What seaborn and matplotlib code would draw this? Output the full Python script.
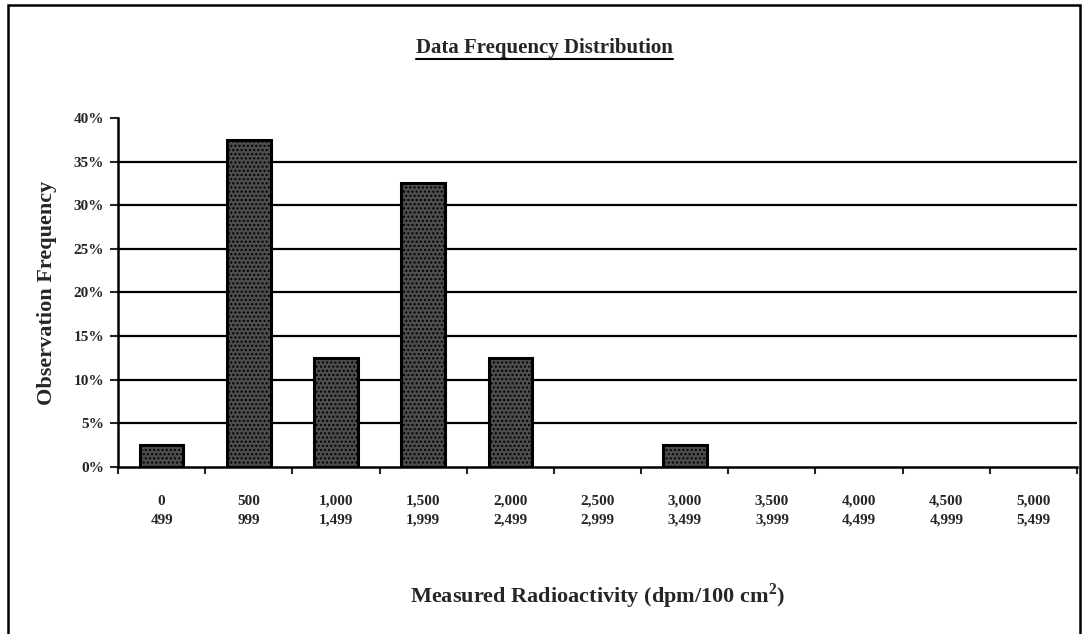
"""Data frequency distribution of measured radioactivity, redrawn with seaborn."""
import matplotlib

matplotlib.use("Agg")
import matplotlib.pyplot as plt
import numpy as np
import pandas as pd
import seaborn as sns
from matplotlib.lines import Line2D
from matplotlib.patches import Rectangle
from matplotlib.ticker import FuncFormatter

BIN_LOW = ["0", "500", "1,000", "1,500", "2,000", "2,500", "3,000", "3,500", "4,000", "4,500", "5,000"]
BIN_HIGH = ["499", "999", "1,499", "1,999", "2,499", "2,999", "3,499", "3,999", "4,499", "4,999", "5,499"]
FREQUENCY = [0.025, 0.375, 0.125, 0.325, 0.125, 0.0, 0.025, 0.0, 0.0, 0.0, 0.0]
Y_TICKS = [0.0, 0.05, 0.10, 0.15, 0.20, 0.25, 0.30, 0.35, 0.40]

sns.set_style("white")
plt.rcParams["font.family"] = ["Liberation Serif", "DejaVu Serif"]
plt.rcParams["font.weight"] = "bold"
plt.rcParams["hatch.color"] = "#d0d0d0"
plt.rcParams["mathtext.fontset"] = "custom"
plt.rcParams["mathtext.rm"] = "Liberation Serif:bold"
plt.rcParams["mathtext.bf"] = "Liberation Serif:bold"

df = pd.DataFrame({
    "bin": [f"{lo}\n{hi}" for lo, hi in zip(BIN_LOW, BIN_HIGH)],
    "freq": FREQUENCY,
})

fig = plt.figure(figsize=(10.89, 6.34), dpi=100)
ax = fig.add_axes([0.1084, 0.2634, 0.8806, 0.5505])

# gridlines behind the bars
for y in Y_TICKS[1:-1]:
    ax.axhline(y, color="black", linewidth=1.6, zorder=0)

sns.barplot(
    data=df, x="bin", y="freq", ax=ax, width=0.5,
    color="#4d4d4d", edgecolor="black", linewidth=2.2, saturation=1, zorder=2,
)
for bar in ax.patches:
    bar.set_hatch("....")
    bar.set_edgecolor("black")
    if bar.get_height() == 0:
        bar.set_visible(False)

ax.set_xlim(-0.5, len(FREQUENCY) - 0.5)
ax.set_ylim(0, 0.40)
ax.set_yticks(Y_TICKS)
ax.yaxis.set_major_formatter(FuncFormatter(lambda v, _: f"{v * 100:.0f}%"))
ax.tick_params(axis="y", length=6, width=1.5, direction="out", left=True, labelsize=11, pad=4)
ax.set_xticks(np.arange(len(FREQUENCY)))
ax.set_xticks(np.arange(len(FREQUENCY) + 1) - 0.5, minor=True)
ax.tick_params(axis="x", which="major", length=0, labelsize=11, pad=20)
ax.tick_params(axis="x", which="minor", length=5, width=1.5, direction="out", bottom=True)
for lbl in ax.get_xticklabels() + ax.get_yticklabels():
    lbl.set_fontweight("bold")
    lbl.set_linespacing(1.6)

for side in ["top", "right"]:
    ax.spines[side].set_visible(False)
for side in ["left", "bottom"]:
    ax.spines[side].set_linewidth(1.8)
    ax.spines[side].set_color("black")

ax.set_ylabel("Observation Frequency", fontsize=16, fontweight="bold", labelpad=12)
ax.set_xlabel("Measured Radioactivity (dpm/100 cm$^\\mathbf{2}$)", fontsize=16, fontweight="bold", labelpad=39)

title = fig.text(0.5, 1 - 48 / 634, "Data Frequency Distribution", ha="center", va="center",
                 fontsize=15, fontweight="bold")

# underline the title and frame the whole chart
fig.canvas.draw()
bb = title.get_window_extent().transformed(fig.transFigure.inverted())
fig.add_artist(Line2D([bb.x0, bb.x1], [bb.y0 - 0.002, bb.y0 - 0.002], color="black", linewidth=1.5))
fig.add_artist(Rectangle((8 / 1089, -0.01), 1072 / 1089, 1 - 5 / 634 + 0.01, fill=False,
                         edgecolor="black", linewidth=1.8))

fig.savefig("out.png", dpi=100)
